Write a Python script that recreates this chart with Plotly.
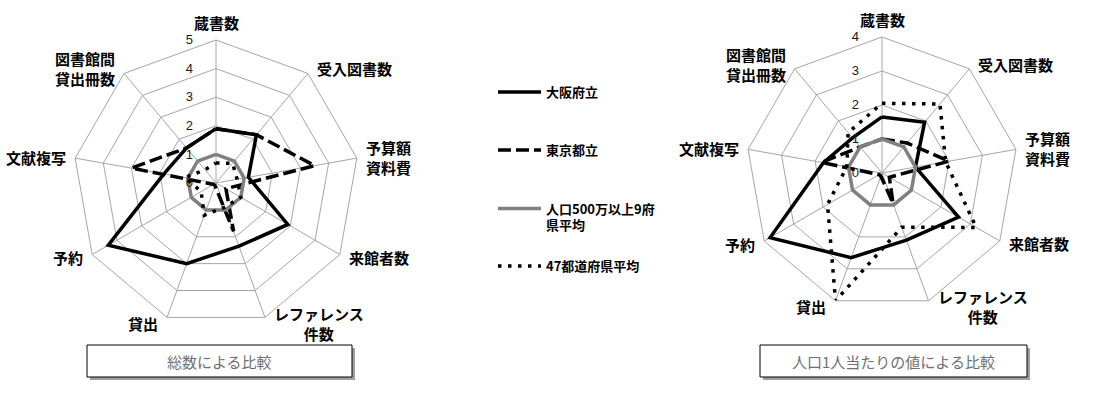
import math
import plotly.graph_objects as go

W, H = 1098, 401

categories = ["蔵書数", "受入図書数", "予算額<br>資料費", "来館者数", "レファレンス<br>件数",
              "貸出", "予約", "文献複写", "図書館間<br>貸出冊数"]

series_names = ["大阪府立", "東京都立", "人口500万以上9府<br>県平均", "47都道府県平均"]

# 総数による比較
osaka_total = [1.9, 2.2, 1.15, 2.9, 2.35, 3.0, 4.35, 1.85, 1.6]
tokyo_total = [1.9, 2.2, 3.5, 0.4, 1.8, 0.1, 0.1, 3.0, 1.6]
pref9_total = [1, 1, 1, 1, 1, 1, 1, 1, 1]
avg47_total = [0.7, 0.9, 0.75, 1.0, 0.9, 1.2, 0.6, 1.1, 0.6]

# 人口1人当たりの値による比較
osaka_pc = [1.65, 1.95, 1.0, 2.6, 2.1, 2.65, 3.8, 1.75, 1.35]
tokyo_pc = [1.0, 1.15, 2.0, 0.25, 0.95, 0.1, 0.1, 1.8, 1.0]
pref9_pc = [1, 1, 1, 1, 1, 1, 1, 1, 1]
avg47_pc = [2.05, 2.65, 1.9, 3.2, 1.7, 4.0, 1.85, 1.05, 1.55]

chart_titles = ["総数による比較", "人口1人当たりの値による比較"]

styles = [
    dict(color="black", width=3.5, dash="solid"),
    dict(color="black", width=3.5, dash="13px,5px"),
    dict(color="#808080", width=3.5, dash="solid"),
    dict(color="black", width=3.5, dash="3.5px,6.5px"),
]

FONT = "Noto Sans CJK JP"
fig = go.Figure()
legends = ["legend", "legend2", "legend3", "legend4"]


def closed(v):
    return list(v) + [v[0]]


for subplot, data in (("polar", [osaka_total, tokyo_total, pref9_total, avg47_total]),
                      ("polar2", [osaka_pc, tokyo_pc, pref9_pc, avg47_pc])):
    for i, vals in enumerate(data):
        fig.add_trace(go.Scatterpolar(
            r=closed(vals), theta=closed(categories), mode="lines",
            name=series_names[i], line=styles[i],
            subplot=subplot, legend=legends[i],
            showlegend=(subplot == "polar"), hoverinfo="skip"))


def px_x(x):
    return x / W


def px_y(y):
    return 1 - y / H


grid = "#a6a6a6"


def polar_layout(cx, cy, rad, rmax):
    return dict(
        domain=dict(x=[px_x(cx - rad), px_x(cx + rad)], y=[px_y(cy + rad), px_y(cy - rad)]),
        gridshape="linear",
        bgcolor="white",
        radialaxis=dict(range=[0, rmax], dtick=1, angle=90, tickangle=90, side="counterclockwise",
                        showline=False, ticks="outside", ticklen=18, tickcolor="rgba(0,0,0,0)",
                        gridcolor=grid, gridwidth=1,
                        tickfont=dict(family="Liberation Sans", size=13, color="#1a1a1a")),
        angularaxis=dict(direction="clockwise", rotation=90, gridcolor=grid, gridwidth=1,
                         linecolor=grid, linewidth=1, ticks="", showticklabels=False),
    )


def category_labels(cx, cy, rad):
    """Category labels placed just outside each spoke of the polar frame."""
    out = []
    n = len(categories)
    for k, lab in enumerate(categories):
        a = math.radians(k * 360 / n)
        s, c = math.sin(a), math.cos(a)
        vx, vy = cx + rad * s, cy - rad * c
        if abs(s) < 0.2:
            x, y, xa = vx, vy - 18 * (1 if c > 0 else -1), "center"
        else:
            x, y, xa = vx + 8 * (1 if s > 0 else -1), vy - 6 * c, ("left" if s > 0 else "right")
        out.append(dict(text=lab, xref="paper", yref="paper", x=px_x(x), y=px_y(y),
                        xanchor=xa, yanchor="middle", showarrow=False, align="center",
                        borderpad=0,
                        font=dict(family=FONT, size=15, color="black", weight="bold")))
    return out


legend_common = dict(bgcolor="rgba(0,0,0,0)", borderwidth=0, xanchor="left", yanchor="middle",
                     font=dict(family=FONT, size=13, color="black", weight="bold"),
                     itemwidth=43, valign="top")
leg_y = [92, 150, 217, 266]

shapes = []
annotations = category_labels(216, 183, 143) + category_labels(882, 173, 136)
for (x0, y0, x1, y1), title in (((87, 345, 352, 377), chart_titles[0]),
                                ((760, 345, 1027, 377), chart_titles[1])):
    shapes.append(dict(type="rect", xref="paper", yref="paper",
                       x0=px_x(x0 + 3), x1=px_x(x1 + 3), y0=px_y(y1 + 3), y1=px_y(y0 + 3),
                       fillcolor="#a0a0a0", line=dict(width=0), layer="below"))
    shapes.append(dict(type="rect", xref="paper", yref="paper",
                       x0=px_x(x0), x1=px_x(x1), y0=px_y(y1), y1=px_y(y0),
                       fillcolor="white", line=dict(color="black", width=1), layer="below"))
    annotations.append(dict(text=title, xref="paper", yref="paper", x=px_x((x0 + x1) / 2),
                            y=px_y((y0 + y1) / 2), xanchor="center", yanchor="middle",
                            showarrow=False,
                            font=dict(family=FONT, size=15, color="#707070")))

layout = dict(
    width=W, height=H, margin=dict(l=0, r=0, t=0, b=0),
    paper_bgcolor="white", plot_bgcolor="white",
    polar=polar_layout(216, 183, 143, 5),
    polar2=polar_layout(882, 173, 136, 4),
    shapes=shapes, annotations=annotations,
)
for i, lg in enumerate(legends):
    layout[lg] = dict(legend_common, x=px_x(493), y=px_y(leg_y[i]))

fig.update_layout(**layout)
fig.write_html("out.html", config={"displayModeBar": False},
               post_script="document.body.style.margin='0px';document.body.style.overflow='hidden';")
